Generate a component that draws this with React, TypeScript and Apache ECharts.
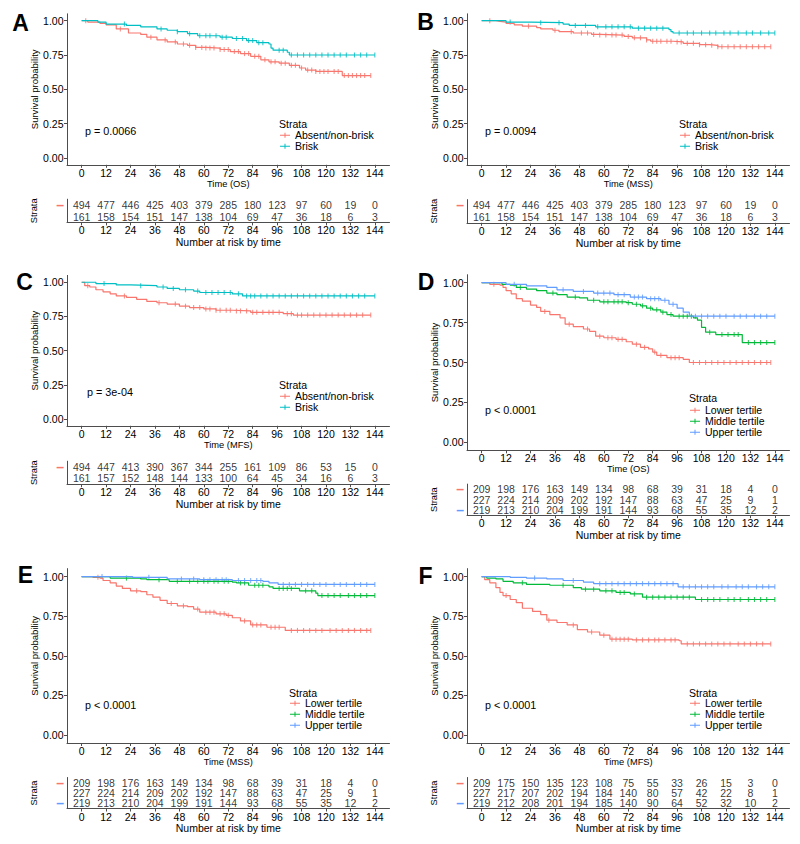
import React, { useEffect, useRef } from "react";
import * as echarts from "echarts";

const FONT = '"Liberation Sans", Arial, Helvetica, sans-serif';
const AXIS = "#4d4d4d";
const RED = "#F8766D";
const TEAL = "#00BFC4";
const GREEN = "#00BA38";
const BLUE = "#619CFF";

const months = [0, 12, 24, 36, 48, 60, 72, 84, 96, 108, 120, 132, 144];
const yTicks = [0, 0.25, 0.5, 0.75, 1];

// ---------- Panel A (OS, TIL grade) ----------
const A_absent_t = [0, 3, 9, 12, 17, 23, 29, 32, 37, 42, 47, 52, 56, 61, 68, 73, 78, 83, 88, 92, 97, 102, 107, 110, 115, 128, 142];
const A_absent_s = [1, 0.99, 0.98, 0.97, 0.94, 0.91, 0.9, 0.88, 0.86, 0.845, 0.83, 0.82, 0.805, 0.8, 0.79, 0.775, 0.76, 0.74, 0.715, 0.7, 0.69, 0.675, 0.655, 0.64, 0.63, 0.6, 0.6];
const A_absent_c = [2, 19, 34, 41, 46, 50, 53, 56, 59, 61, 63, 65, 68, 70, 72, 75, 77, 80, 82, 85, 87, 90, 93, 95, 98, 100, 103, 105, 108, 111, 113, 115, 117, 119, 121, 124, 126, 129, 131, 133, 135, 137, 139, 142];
const A_brisk_t = [0, 8, 12, 22, 29, 37, 42, 47, 52, 57, 68, 74, 81, 86, 92, 93, 94, 101, 102, 144];
const A_brisk_s = [1, 0.99, 0.975, 0.965, 0.955, 0.94, 0.93, 0.92, 0.905, 0.89, 0.88, 0.87, 0.855, 0.84, 0.83, 0.8, 0.785, 0.77, 0.75, 0.75];
const A_brisk_c = [21, 39, 47, 53, 58, 61, 63, 66, 69, 71, 76, 79, 82, 84, 87, 89, 97, 99, 103, 106, 109, 112, 115, 118, 121, 124, 127, 130, 134, 137, 140, 144];
const A_risk_absent = [494, 477, 446, 425, 403, 379, 285, 180, 123, 97, 60, 19, 0];
const A_risk_brisk = [161, 158, 154, 151, 147, 138, 104, 69, 47, 36, 18, 6, 3];

// ---------- Panel B (MSS, TIL grade) ----------
const B_absent_t = [0, 7, 9, 12, 16, 20, 27, 29, 35, 38, 45, 54, 58, 70, 74, 81, 83, 94, 99, 107, 112, 116, 142];
const B_absent_s = [1, 0.995, 0.99, 0.98, 0.97, 0.96, 0.95, 0.94, 0.93, 0.92, 0.91, 0.9, 0.895, 0.885, 0.875, 0.86, 0.85, 0.845, 0.835, 0.825, 0.82, 0.81, 0.81];
const B_absent_c = [4, 23, 36, 44, 49, 52, 55, 58, 61, 64, 66, 69, 72, 75, 78, 81, 84, 86, 88, 91, 93, 96, 98, 101, 104, 107, 110, 113, 116, 118, 121, 124, 127, 130, 133, 136, 139, 142];
const B_brisk_t = [0, 12, 24, 40, 43, 56, 74, 92, 93, 94, 144];
const B_brisk_s = [1, 0.99, 0.985, 0.975, 0.965, 0.955, 0.945, 0.935, 0.92, 0.91, 0.91];
const B_brisk_c = [14, 29, 38, 46, 51, 57, 61, 64, 67, 70, 73, 77, 80, 83, 86, 89, 97, 101, 104, 108, 112, 115, 119, 122, 126, 130, 133, 137, 141, 144];
const B_risk_absent = [494, 477, 446, 425, 403, 379, 285, 180, 123, 97, 60, 19, 0];
const B_risk_brisk = [161, 158, 154, 151, 147, 138, 104, 69, 47, 36, 18, 6, 3];

// ---------- Panel C (MFS, TIL grade) ----------
const C_absent_t = [0, 1.5, 4, 7, 10.5, 14, 17, 22, 27, 32, 37, 42, 48, 53, 60, 66, 74, 83, 99, 104, 142];
const C_absent_s = [1, 0.975, 0.965, 0.945, 0.93, 0.915, 0.9, 0.89, 0.875, 0.86, 0.85, 0.84, 0.825, 0.815, 0.805, 0.795, 0.79, 0.78, 0.77, 0.76, 0.76];
const C_absent_c = [3, 21, 38, 46, 51, 55, 58, 61, 63, 66, 68, 71, 73, 76, 78, 81, 84, 86, 89, 92, 94, 97, 101, 103, 106, 108, 111, 114, 117, 120, 123, 126, 129, 132, 135, 138, 142];
const C_brisk_t = [0, 7, 17, 24, 37, 42, 48, 55, 58, 74, 79, 144];
const C_brisk_s = [1, 0.99, 0.98, 0.975, 0.965, 0.955, 0.945, 0.935, 0.925, 0.915, 0.9, 0.9];
const C_brisk_c = [11, 29, 40, 45, 51, 57, 61, 64, 67, 70, 73, 77, 81, 83, 85, 88, 91, 94, 97, 100, 103, 106, 109, 112, 115, 118, 121, 124, 127, 130, 133, 136, 139, 144];
const C_risk_absent = [494, 447, 413, 390, 367, 344, 255, 161, 109, 86, 53, 15, 0];
const C_risk_brisk = [161, 157, 152, 148, 144, 133, 100, 64, 45, 34, 16, 6, 3];

// ---------- Panel D (OS, tertiles) ----------
const D_lower_t = [0, 4, 9, 10.5, 12, 14.5, 17, 20, 24, 27, 29, 33.5, 38.5, 41, 45, 50, 53, 56, 60, 66, 71, 74, 78, 82, 84, 86, 91, 99, 102, 142];
const D_lower_s = [1, 0.99, 0.985, 0.97, 0.95, 0.93, 0.9, 0.885, 0.86, 0.845, 0.82, 0.8, 0.78, 0.74, 0.725, 0.71, 0.695, 0.665, 0.655, 0.645, 0.63, 0.615, 0.595, 0.585, 0.565, 0.545, 0.53, 0.52, 0.5, 0.5];
const D_lower_c = [6, 31, 43, 52, 58, 62, 64, 67, 69, 76, 80, 85, 88, 93, 95, 97, 104, 107, 110, 113, 116, 119, 122, 125, 128, 131, 134, 137, 140, 142];
const D_middle_t = [0, 10, 14, 17, 22, 27, 32, 37, 42, 48, 52, 58, 71, 74, 78, 81, 84, 88, 91, 94, 104, 106, 108, 110, 115, 128, 144];
const D_middle_s = [1, 0.99, 0.985, 0.97, 0.96, 0.95, 0.935, 0.925, 0.91, 0.905, 0.89, 0.88, 0.875, 0.865, 0.855, 0.84, 0.83, 0.815, 0.8, 0.79, 0.78, 0.765, 0.72, 0.69, 0.675, 0.625, 0.625];
const D_middle_c = [19, 35, 46, 55, 60, 62, 65, 67, 69, 72, 76, 79, 83, 86, 89, 93, 97, 99, 101, 103, 112, 118, 121, 124, 126, 131, 134, 137, 140, 144];
const D_upper_t = [0, 12, 22, 32, 37, 45, 55, 65, 73, 81, 88, 92, 96, 99, 102, 144];
const D_upper_s = [1, 0.99, 0.98, 0.97, 0.955, 0.945, 0.935, 0.925, 0.91, 0.9, 0.89, 0.865, 0.84, 0.815, 0.79, 0.79];
const D_upper_c = [16, 40, 50, 57, 60, 63, 67, 70, 75, 77, 79, 83, 85, 87, 90, 94, 105, 108, 111, 114, 117, 120, 124, 127, 130, 134, 137, 140, 144];
const D_risk_lower = [209, 198, 176, 163, 149, 134, 98, 68, 39, 31, 18, 4, 0];
const D_risk_middle = [227, 224, 214, 209, 202, 192, 147, 88, 63, 47, 25, 9, 1];
const D_risk_upper = [219, 213, 210, 204, 199, 191, 144, 93, 68, 55, 35, 12, 2];

// ---------- Panel E (MSS, tertiles) ----------
const E_lower_t = [0, 5.5, 9, 10.5, 14, 17, 20, 24, 29, 32, 35, 38.5, 42, 47, 52, 55, 58, 66, 71, 74, 78, 83, 91, 100, 142];
const E_lower_s = [1, 0.995, 0.99, 0.975, 0.96, 0.94, 0.925, 0.91, 0.905, 0.885, 0.87, 0.85, 0.83, 0.815, 0.81, 0.795, 0.775, 0.765, 0.755, 0.74, 0.72, 0.695, 0.68, 0.66, 0.66];
const E_lower_c = [8, 27, 44, 50, 57, 61, 63, 65, 68, 70, 72, 80, 84, 86, 88, 93, 95, 97, 103, 106, 109, 112, 115, 118, 122, 125, 128, 131, 134, 137, 140, 142];
const E_middle_t = [0, 14, 29, 32, 43, 74, 76, 82, 92, 94, 107, 115, 116, 144];
const E_middle_s = [1, 0.99, 0.985, 0.98, 0.97, 0.965, 0.96, 0.945, 0.935, 0.925, 0.91, 0.895, 0.88, 0.88];
const E_middle_c = [22, 38, 47, 53, 57, 60, 62, 65, 67, 70, 72, 78, 80, 85, 87, 89, 97, 99, 101, 103, 110, 113, 118, 121, 124, 127, 131, 134, 137, 140, 144];
const E_upper_t = [0, 25, 42, 58, 74, 89, 92, 96.5, 144];
const E_upper_s = [1, 0.995, 0.985, 0.98, 0.975, 0.97, 0.96, 0.95, 0.95];
const E_upper_c = [10, 33, 49, 55, 60, 63, 66, 69, 71, 77, 80, 83, 86, 88, 99, 102, 105, 108, 111, 114, 117, 120, 124, 127, 130, 134, 137, 140, 144];
const E_risk_lower = [209, 198, 176, 163, 149, 134, 98, 68, 39, 31, 18, 4, 0];
const E_risk_middle = [227, 224, 214, 209, 202, 192, 147, 88, 63, 47, 25, 9, 1];
const E_risk_upper = [219, 213, 210, 204, 199, 191, 144, 93, 68, 55, 35, 12, 2];

// ---------- Panel F (MFS, tertiles) ----------
const F_lower_t = [0, 1.5, 4, 7, 9, 10.5, 14, 17, 20, 25, 29, 32, 37, 42, 47, 52, 58, 63, 74, 97, 98, 142];
const F_lower_s = [1, 0.98, 0.96, 0.93, 0.9, 0.88, 0.855, 0.835, 0.8, 0.78, 0.76, 0.725, 0.71, 0.695, 0.665, 0.65, 0.63, 0.605, 0.6, 0.595, 0.575, 0.575];
const F_lower_c = [12, 33, 45, 54, 60, 64, 66, 68, 70, 72, 76, 79, 82, 85, 87, 90, 93, 95, 101, 104, 107, 110, 113, 116, 119, 122, 126, 129, 132, 135, 138, 142];
const F_middle_t = [0, 2.5, 7, 10.5, 15.5, 22, 33.5, 45, 49, 58, 66, 73, 79, 105, 144];
const F_middle_s = [1, 0.99, 0.985, 0.97, 0.96, 0.95, 0.945, 0.93, 0.92, 0.91, 0.9, 0.89, 0.87, 0.855, 0.855];
const F_middle_c = [20, 40, 51, 55, 61, 64, 68, 70, 75, 81, 84, 87, 90, 93, 96, 99, 102, 108, 111, 114, 117, 121, 124, 127, 131, 134, 137, 140, 144];
const F_upper_t = [0, 14, 22, 32, 40, 50, 55, 96.5, 144];
const F_upper_s = [1, 0.995, 0.99, 0.985, 0.975, 0.965, 0.955, 0.935, 0.935];
const F_upper_c = [26, 45, 58, 61, 64, 67, 70, 73, 76, 79, 82, 85, 88, 91, 94, 99, 102, 105, 108, 111, 114, 118, 121, 125, 128, 131, 135, 138, 141, 144];
const F_risk_lower = [209, 175, 150, 135, 123, 108, 75, 55, 33, 26, 15, 3, 0];
const F_risk_middle = [227, 217, 207, 202, 194, 184, 140, 80, 57, 42, 22, 8, 1];
const F_risk_upper = [219, 212, 208, 201, 194, 185, 140, 90, 64, 52, 32, 10, 2];

type Curve = { name: string; color: string; t: number[]; s: number[]; c: number[]; risk: number[] };

const grade = (t1, s1, c1, r1, t2, s2, c2, r2): Curve[] => [
  { name: "Absent/non-brisk", color: RED, t: t1, s: s1, c: c1, risk: r1 },
  { name: "Brisk", color: TEAL, t: t2, s: s2, c: c2, risk: r2 },
];
const tert = (a, b, c): Curve[] => [
  { name: "Lower tertile", color: RED, ...a },
  { name: "Middle tertile", color: GREEN, ...b },
  { name: "Upper tertile", color: BLUE, ...c },
];

const panels = [
  {
    letter: "A", lx: 20.5, ly: 22.7, col: 0, xTitle: "Time (OS)", p: "p = 0.0066", px: 85, py: 131,
    plotTop: 13.8, plotH: 151, tabTop: 199.2, tabH: 23.2, legLeft: 280, legTop: 129.7, strataX: 279, strataY: 124,
    curves: grade(A_absent_t, A_absent_s, A_absent_c, A_risk_absent, A_brisk_t, A_brisk_s, A_brisk_c, A_risk_brisk),
  },
  {
    letter: "B", lx: 425.5, ly: 21.7, col: 1, xTitle: "Time (MSS)", p: "p = 0.0094", px: 485, py: 131,
    plotTop: 13.8, plotH: 151, tabTop: 199.6, tabH: 23.2, legLeft: 680, legTop: 129.7, strataX: 679, strataY: 124,
    curves: grade(B_absent_t, B_absent_s, B_absent_c, B_risk_absent, B_brisk_t, B_brisk_s, B_brisk_c, B_risk_brisk),
  },
  {
    letter: "C", lx: 24.5, ly: 282, col: 0, xTitle: "Time (MFS)", p: "p = 3e-04", px: 87, py: 391.5,
    plotTop: 275.4, plotH: 150.4, tabTop: 461.2, tabH: 23, legLeft: 280, legTop: 390.7, strataX: 279, strataY: 385,
    curves: grade(C_absent_t, C_absent_s, C_absent_c, C_risk_absent, C_brisk_t, C_brisk_s, C_brisk_c, C_risk_brisk),
  },
  {
    letter: "D", lx: 426, ly: 281.7, col: 1, xTitle: "Time (OS)", p: "p < 0.0001", px: 485, py: 410,
    plotTop: 274.7, plotH: 175.6, tabTop: 484.1, tabH: 31.1, legLeft: 690, legTop: 404.7, strataX: 689, strataY: 398.3,
    curves: tert(
      { t: D_lower_t, s: D_lower_s, c: D_lower_c, risk: D_risk_lower },
      { t: D_middle_t, s: D_middle_s, c: D_middle_c, risk: D_risk_middle },
      { t: D_upper_t, s: D_upper_s, c: D_upper_c, risk: D_risk_upper }
    ),
  },
  {
    letter: "E", lx: 25.5, ly: 575, col: 0, xTitle: "Time (MSS)", p: "p < 0.0001", px: 85, py: 705,
    plotTop: 568.6, plotH: 174.4, tabTop: 777.5, tabH: 31, legLeft: 290, legTop: 697.7, strataX: 289, strataY: 692.7,
    curves: tert(
      { t: E_lower_t, s: E_lower_s, c: E_lower_c, risk: E_risk_lower },
      { t: E_middle_t, s: E_middle_s, c: E_middle_c, risk: E_risk_middle },
      { t: E_upper_t, s: E_upper_s, c: E_upper_c, risk: E_risk_upper }
    ),
  },
  {
    letter: "F", lx: 425.5, ly: 576, col: 1, xTitle: "Time (MFS)", p: "p < 0.0001", px: 485, py: 705,
    plotTop: 568.6, plotH: 174.4, tabTop: 777.5, tabH: 31, legLeft: 690, legTop: 697.7, strataX: 689, strataY: 692.7,
    curves: tert(
      { t: F_lower_t, s: F_lower_s, c: F_lower_c, risk: F_risk_lower },
      { t: F_middle_t, s: F_middle_s, c: F_middle_c, risk: F_risk_middle },
      { t: F_upper_t, s: F_upper_s, c: F_upper_c, risk: F_risk_upper }
    ),
  },
];

function survAt(t: number[], s: number[], x: number) {
  let v = s[0];
  for (let k = 0; k < t.length; k++) {
    if (t[k] <= x) v = s[k];
    else break;
  }
  return v;
}

function buildOption() {
  const grid: any[] = [];
  const xAxis: any[] = [];
  const yAxis: any[] = [];
  const series: any[] = [];
  const legend: any[] = [];
  const graphic: any[] = [];

  const axisLine = { show: true, onZero: false, lineStyle: { color: AXIS, width: 1 } };
  const txt = { color: "#000", fontFamily: FONT };

  panels.forEach((p) => {
    const left = p.col === 0 ? 67 : 467;
    const gp = grid.length;
    grid.push({ left, top: p.plotTop, width: 322.5, height: p.plotH });
    grid.push({ left, top: p.tabTop, width: 322.5, height: p.tabH });

    const xBase = {
      type: "value", min: -7.2, max: 151.2, axisLine,
      axisTick: { show: true, length: 3, lineStyle: { color: AXIS, width: 1 }, customValues: months },
      axisLabel: { customValues: months, margin: 2.5, fontSize: 10.5, ...txt },
      splitLine: { show: false },
      nameLocation: "middle",
    };
    xAxis.push({ ...xBase, gridIndex: gp, name: p.xTitle, nameGap: 11.5, nameTextStyle: { fontSize: 9.3, ...txt } });
    xAxis.push({ ...xBase, gridIndex: gp + 1, name: "Number at risk by time", nameGap: 12, nameTextStyle: { fontSize: 10.5, ...txt } });

    yAxis.push({
      type: "value", gridIndex: gp, min: -0.05, max: 1.05, axisLine,
      axisTick: { show: true, length: 3, lineStyle: { color: AXIS, width: 1 }, customValues: yTicks },
      axisLabel: { customValues: yTicks, margin: 3.5, fontSize: 10.5, formatter: (v: number) => v.toFixed(2), ...txt },
      splitLine: { show: false },
      name: "Survival probability", nameLocation: "middle", nameRotate: 90, nameGap: 27,
      nameTextStyle: { fontSize: 9.5, ...txt },
    });
    const rich: any = {};
    p.curves.forEach((c, j) => {
      rich["c" + j] = { color: c.color, fontWeight: "bold", fontSize: 14, lineHeight: 9, fontFamily: FONT };
    });
    yAxis.push({
      type: "category", gridIndex: gp + 1, inverse: true, data: p.curves.map((c) => c.name), axisLine,
      axisTick: { show: false },
      axisLabel: { margin: 3, lineHeight: 9, formatter: (_v: string, idx: number) => `{c${idx}|\u2013}`, rich },
      name: "Strata", nameLocation: "middle", nameRotate: 90, nameGap: 29,
      nameTextStyle: { fontSize: 9.3, ...txt },
    });

    p.curves.forEach((c) => {
      series.push({
        type: "line", name: c.name, xAxisIndex: gp, yAxisIndex: gp, step: "end", showSymbol: false, silent: true,
        data: c.t.map((x, k) => [x, c.s[k]]),
        lineStyle: { color: c.color, width: 1.2 }, itemStyle: { color: c.color },
      });
      series.push({
        type: "scatter", xAxisIndex: gp, yAxisIndex: gp, silent: true, symbol: "rect", symbolSize: [1.1, 5],
        data: c.c.map((x) => [x, survAt(c.t, c.s, x)]),
        itemStyle: { color: c.color },
      });
      series.push({
        type: "scatter", xAxisIndex: gp + 1, yAxisIndex: gp + 1, silent: true, symbolSize: 1,
        itemStyle: { color: "rgba(0,0,0,0)" },
        data: months.map((m, k) => [m, c.name, c.risk[k]]),
        label: { show: true, position: "inside", formatter: (q: any) => String(q.value[2]), fontSize: 10.5, lineHeight: 9.5, ...txt },
      });
    });

    legend.push({
      data: p.curves.map((c) => c.name), orient: "vertical", left: p.legLeft, top: p.legTop,
      itemWidth: 10, itemHeight: 5, itemGap: 0, selectedMode: false,
      icon: "path://M0,2h10v1h-10z M4.5,0h1v5h-1z",
      textStyle: { fontSize: 10.5, lineHeight: 10.5, ...txt },
      padding: 0,
    });

    graphic.push({
      type: "text", x: p.lx, y: p.ly,
      style: { text: p.letter, fontSize: 23, fontWeight: "bold", fontFamily: FONT, fill: "#000", align: "center", verticalAlign: "middle" },
    });
    graphic.push({
      type: "text", x: p.px, y: p.py,
      style: { text: p.p, fontSize: 10.8, fontFamily: FONT, fill: "#000", align: "left", verticalAlign: "middle" },
    });
    graphic.push({
      type: "text", x: p.strataX, y: p.strataY,
      style: { text: "Strata", fontSize: 10.5, fontFamily: FONT, fill: "#000", align: "left", verticalAlign: "middle" },
    });
  });

  return { animation: false, backgroundColor: "#fff", grid, xAxis, yAxis, series, legend, graphic };
}

export default function App() {
  const ref = useRef<HTMLDivElement>(null);
  useEffect(() => {
    const chart = echarts.init(ref.current!, null, { renderer: "svg" });
    chart.setOption(buildOption() as any);
    return () => chart.dispose();
  }, []);
  return <div ref={ref} style={{ position: "absolute", left: 0, top: 0, width: 800, height: 844 }} />;
}
